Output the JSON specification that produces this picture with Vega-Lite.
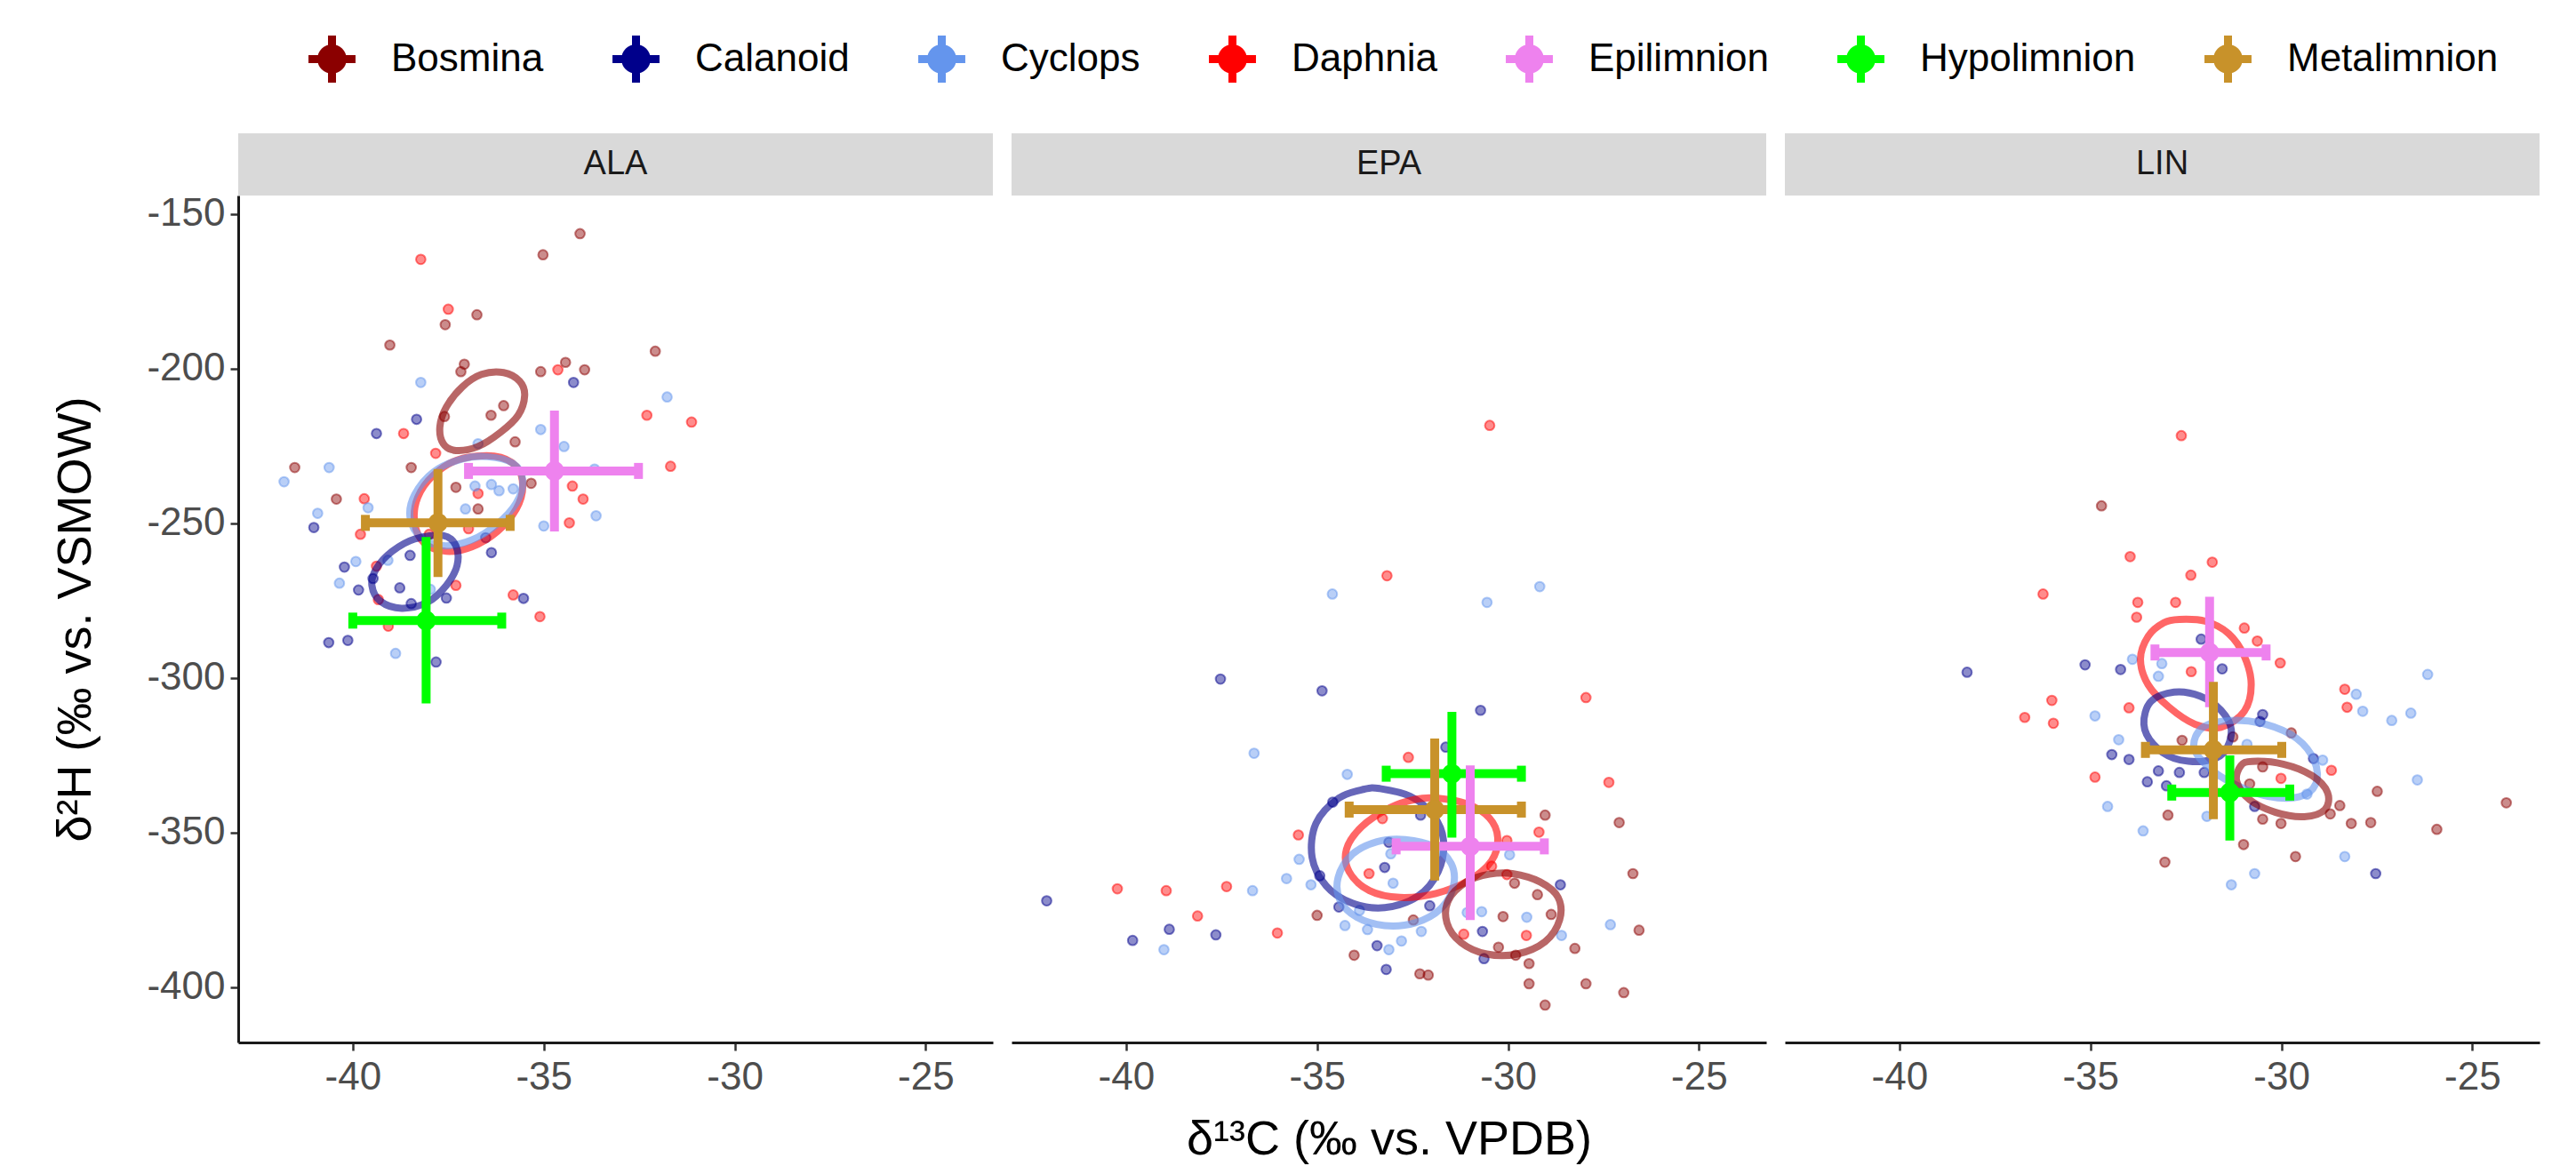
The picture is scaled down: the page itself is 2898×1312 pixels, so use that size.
{
 "$schema": "https://vega.github.io/schema/vega-lite/v6.json",
 "background": "white",
 "padding": {"left": 58, "top": 40, "right": 20, "bottom": 5},
 "autosize": {"type": "pad"},
 "data": {"values": [
  {"p":"ALA","t":"strip"},{"p":"EPA","t":"strip"},{"p":"LIN","t":"strip"},
  {"p":"ALA","t":"pt","s":"Bosmina","x":-34.05,"y":-156.4},
  {"p":"ALA","t":"pt","s":"Bosmina","x":-35.02,"y":-163.2},
  {"p":"ALA","t":"pt","s":"Daphnia","x":-38.22,"y":-164.7},
  {"p":"ALA","t":"pt","s":"Daphnia","x":-37.5,"y":-180.8},
  {"p":"ALA","t":"pt","s":"Bosmina","x":-37.58,"y":-185.8},
  {"p":"ALA","t":"pt","s":"Bosmina","x":-36.75,"y":-182.6},
  {"p":"ALA","t":"pt","s":"Bosmina","x":-39.03,"y":-192.4},
  {"p":"ALA","t":"pt","s":"Bosmina","x":-32.08,"y":-194.4},
  {"p":"ALA","t":"pt","s":"Bosmina","x":-37.08,"y":-198.6},
  {"p":"ALA","t":"pt","s":"Bosmina","x":-37.17,"y":-201.0},
  {"p":"ALA","t":"pt","s":"Bosmina","x":-35.08,"y":-201.0},
  {"p":"ALA","t":"pt","s":"Daphnia","x":-34.63,"y":-200.4},
  {"p":"ALA","t":"pt","s":"Bosmina","x":-34.43,"y":-198.0},
  {"p":"ALA","t":"pt","s":"Bosmina","x":-33.93,"y":-200.4},
  {"p":"ALA","t":"pt","s":"Calanoid","x":-34.22,"y":-204.5},
  {"p":"ALA","t":"pt","s":"Cyclops","x":-38.22,"y":-204.5},
  {"p":"ALA","t":"pt","s":"Cyclops","x":-31.77,"y":-209.2},
  {"p":"ALA","t":"pt","s":"Daphnia","x":-32.3,"y":-215.1},
  {"p":"ALA","t":"pt","s":"Daphnia","x":-31.13,"y":-217.3},
  {"p":"ALA","t":"pt","s":"Bosmina","x":-36.05,"y":-212.0},
  {"p":"ALA","t":"pt","s":"Bosmina","x":-36.38,"y":-215.1},
  {"p":"ALA","t":"pt","s":"Calanoid","x":-38.33,"y":-216.4},
  {"p":"ALA","t":"pt","s":"Calanoid","x":-39.38,"y":-221.0},
  {"p":"ALA","t":"pt","s":"Daphnia","x":-38.67,"y":-221.0},
  {"p":"ALA","t":"pt","s":"Bosmina","x":-37.6,"y":-215.5},
  {"p":"ALA","t":"pt","s":"Cyclops","x":-36.72,"y":-224.3},
  {"p":"ALA","t":"pt","s":"Bosmina","x":-35.75,"y":-223.7},
  {"p":"ALA","t":"pt","s":"Cyclops","x":-35.08,"y":-219.7},
  {"p":"ALA","t":"pt","s":"Cyclops","x":-34.47,"y":-225.2},
  {"p":"ALA","t":"pt","s":"Bosmina","x":-41.52,"y":-232.0},
  {"p":"ALA","t":"pt","s":"Cyclops","x":-41.8,"y":-236.6},
  {"p":"ALA","t":"pt","s":"Cyclops","x":-40.62,"y":-232.0},
  {"p":"ALA","t":"pt","s":"Bosmina","x":-38.47,"y":-232.0},
  {"p":"ALA","t":"pt","s":"Daphnia","x":-37.83,"y":-227.4},
  {"p":"ALA","t":"pt","s":"Bosmina","x":-37.3,"y":-238.4},
  {"p":"ALA","t":"pt","s":"Daphnia","x":-36.72,"y":-240.4},
  {"p":"ALA","t":"pt","s":"Cyclops","x":-36.8,"y":-238.0},
  {"p":"ALA","t":"pt","s":"Cyclops","x":-36.37,"y":-237.5},
  {"p":"ALA","t":"pt","s":"Cyclops","x":-36.17,"y":-239.5},
  {"p":"ALA","t":"pt","s":"Cyclops","x":-35.8,"y":-238.9},
  {"p":"ALA","t":"pt","s":"Bosmina","x":-35.33,"y":-237.1},
  {"p":"ALA","t":"pt","s":"Daphnia","x":-34.25,"y":-238.0},
  {"p":"ALA","t":"pt","s":"Daphnia","x":-33.97,"y":-242.2},
  {"p":"ALA","t":"pt","s":"Cyclops","x":-33.63,"y":-247.6},
  {"p":"ALA","t":"pt","s":"Cyclops","x":-33.67,"y":-232.5},
  {"p":"ALA","t":"pt","s":"Daphnia","x":-34.33,"y":-249.9},
  {"p":"ALA","t":"pt","s":"Cyclops","x":-35.0,"y":-250.9},
  {"p":"ALA","t":"pt","s":"Daphnia","x":-31.68,"y":-231.6},
  {"p":"ALA","t":"pt","s":"Bosmina","x":-40.43,"y":-242.2},
  {"p":"ALA","t":"pt","s":"Cyclops","x":-40.92,"y":-246.8},
  {"p":"ALA","t":"pt","s":"Daphnia","x":-39.7,"y":-242.1},
  {"p":"ALA","t":"pt","s":"Cyclops","x":-39.6,"y":-245.0},
  {"p":"ALA","t":"pt","s":"Calanoid","x":-41.02,"y":-251.4},
  {"p":"ALA","t":"pt","s":"Daphnia","x":-39.8,"y":-253.6},
  {"p":"ALA","t":"pt","s":"Bosmina","x":-36.72,"y":-245.4},
  {"p":"ALA","t":"pt","s":"Cyclops","x":-37.05,"y":-245.4},
  {"p":"ALA","t":"pt","s":"Calanoid","x":-36.52,"y":-254.7},
  {"p":"ALA","t":"pt","s":"Calanoid","x":-36.37,"y":-259.5},
  {"p":"ALA","t":"pt","s":"Daphnia","x":-36.97,"y":-251.8},
  {"p":"ALA","t":"pt","s":"Daphnia","x":-37.3,"y":-270.1},
  {"p":"ALA","t":"pt","s":"Cyclops","x":-39.92,"y":-262.4},
  {"p":"ALA","t":"pt","s":"Calanoid","x":-40.22,"y":-264.2},
  {"p":"ALA","t":"pt","s":"Daphnia","x":-39.38,"y":-263.9},
  {"p":"ALA","t":"pt","s":"Calanoid","x":-39.47,"y":-267.9},
  {"p":"ALA","t":"pt","s":"Cyclops","x":-40.35,"y":-269.4},
  {"p":"ALA","t":"pt","s":"Calanoid","x":-39.85,"y":-271.6},
  {"p":"ALA","t":"pt","s":"Calanoid","x":-38.77,"y":-270.9},
  {"p":"ALA","t":"pt","s":"Calanoid","x":-38.5,"y":-260.4},
  {"p":"ALA","t":"pt","s":"Cyclops","x":-39.08,"y":-262.0},
  {"p":"ALA","t":"pt","s":"Daphnia","x":-39.33,"y":-274.7},
  {"p":"ALA","t":"pt","s":"Cyclops","x":-37.97,"y":-271.4},
  {"p":"ALA","t":"pt","s":"Calanoid","x":-37.55,"y":-274.2},
  {"p":"ALA","t":"pt","s":"Daphnia","x":-35.8,"y":-273.2},
  {"p":"ALA","t":"pt","s":"Calanoid","x":-35.53,"y":-274.3},
  {"p":"ALA","t":"pt","s":"Daphnia","x":-35.1,"y":-280.2},
  {"p":"ALA","t":"pt","s":"Daphnia","x":-39.07,"y":-283.3},
  {"p":"ALA","t":"pt","s":"Calanoid","x":-40.63,"y":-288.6},
  {"p":"ALA","t":"pt","s":"Calanoid","x":-40.13,"y":-287.9},
  {"p":"ALA","t":"pt","s":"Cyclops","x":-38.88,"y":-292.1},
  {"p":"ALA","t":"pt","s":"Calanoid","x":-37.82,"y":-294.9},
  {"p":"ALA","t":"pt","s":"Calanoid","x":-38.47,"y":-276.0},
  {"p":"ALA","t":"pt","s":"Daphnia","x":-38.0,"y":-253.6},
  {"p":"EPA","t":"pt","s":"Daphnia","x":-30.48,"y":-218.4},
  {"p":"EPA","t":"pt","s":"Daphnia","x":-33.17,"y":-267.0},
  {"p":"EPA","t":"pt","s":"Cyclops","x":-34.6,"y":-272.9},
  {"p":"EPA","t":"pt","s":"Cyclops","x":-30.55,"y":-275.6},
  {"p":"EPA","t":"pt","s":"Cyclops","x":-29.17,"y":-270.5},
  {"p":"EPA","t":"pt","s":"Calanoid","x":-37.53,"y":-300.4},
  {"p":"EPA","t":"pt","s":"Calanoid","x":-34.87,"y":-304.2},
  {"p":"EPA","t":"pt","s":"Calanoid","x":-30.72,"y":-310.5},
  {"p":"EPA","t":"pt","s":"Daphnia","x":-27.96,"y":-306.4},
  {"p":"EPA","t":"pt","s":"Cyclops","x":-36.65,"y":-324.4},
  {"p":"EPA","t":"pt","s":"Daphnia","x":-32.61,"y":-325.7},
  {"p":"EPA","t":"pt","s":"Cyclops","x":-34.21,"y":-331.2},
  {"p":"EPA","t":"pt","s":"Daphnia","x":-27.36,"y":-333.8},
  {"p":"EPA","t":"pt","s":"Bosmina","x":-29.03,"y":-344.4},
  {"p":"EPA","t":"pt","s":"Bosmina","x":-27.09,"y":-346.8},
  {"p":"EPA","t":"pt","s":"Daphnia","x":-29.19,"y":-349.9},
  {"p":"EPA","t":"pt","s":"Daphnia","x":-35.49,"y":-350.8},
  {"p":"EPA","t":"pt","s":"Cyclops","x":-35.47,"y":-358.7},
  {"p":"EPA","t":"pt","s":"Bosmina","x":-26.73,"y":-363.3},
  {"p":"EPA","t":"pt","s":"Calanoid","x":-42.08,"y":-372.1},
  {"p":"EPA","t":"pt","s":"Daphnia","x":-40.23,"y":-368.2},
  {"p":"EPA","t":"pt","s":"Daphnia","x":-38.95,"y":-368.8},
  {"p":"EPA","t":"pt","s":"Daphnia","x":-37.37,"y":-367.5},
  {"p":"EPA","t":"pt","s":"Cyclops","x":-36.69,"y":-368.8},
  {"p":"EPA","t":"pt","s":"Cyclops","x":-35.8,"y":-364.9},
  {"p":"EPA","t":"pt","s":"Daphnia","x":-38.13,"y":-377.0},
  {"p":"EPA","t":"pt","s":"Calanoid","x":-39.83,"y":-384.9},
  {"p":"EPA","t":"pt","s":"Calanoid","x":-38.87,"y":-381.3},
  {"p":"EPA","t":"pt","s":"Cyclops","x":-39.01,"y":-387.9},
  {"p":"EPA","t":"pt","s":"Calanoid","x":-37.65,"y":-383.1},
  {"p":"EPA","t":"pt","s":"Daphnia","x":-36.04,"y":-382.5},
  {"p":"EPA","t":"pt","s":"Cyclops","x":-35.16,"y":-366.9},
  {"p":"EPA","t":"pt","s":"Bosmina","x":-35.0,"y":-376.8},
  {"p":"EPA","t":"pt","s":"Calanoid","x":-34.43,"y":-374.1},
  {"p":"EPA","t":"pt","s":"Cyclops","x":-34.27,"y":-380.1},
  {"p":"EPA","t":"pt","s":"Bosmina","x":-34.03,"y":-389.7},
  {"p":"EPA","t":"pt","s":"Cyclops","x":-33.68,"y":-381.4},
  {"p":"EPA","t":"pt","s":"Calanoid","x":-33.43,"y":-386.6},
  {"p":"EPA","t":"pt","s":"Calanoid","x":-33.19,"y":-394.3},
  {"p":"EPA","t":"pt","s":"Cyclops","x":-33.12,"y":-387.9},
  {"p":"EPA","t":"pt","s":"Cyclops","x":-32.79,"y":-385.1},
  {"p":"EPA","t":"pt","s":"Bosmina","x":-32.31,"y":-395.7},
  {"p":"EPA","t":"pt","s":"Bosmina","x":-32.09,"y":-396.1},
  {"p":"EPA","t":"pt","s":"Cyclops","x":-32.27,"y":-382.0},
  {"p":"EPA","t":"pt","s":"Bosmina","x":-32.48,"y":-378.3},
  {"p":"EPA","t":"pt","s":"Calanoid","x":-32.05,"y":-373.7},
  {"p":"EPA","t":"pt","s":"Calanoid","x":-33.23,"y":-361.3},
  {"p":"EPA","t":"pt","s":"Daphnia","x":-33.64,"y":-363.3},
  {"p":"EPA","t":"pt","s":"Cyclops","x":-33.01,"y":-366.4},
  {"p":"EPA","t":"pt","s":"Calanoid","x":-33.12,"y":-353.2},
  {"p":"EPA","t":"pt","s":"Cyclops","x":-33.07,"y":-356.9},
  {"p":"EPA","t":"pt","s":"Calanoid","x":-34.93,"y":-364.0},
  {"p":"EPA","t":"pt","s":"Daphnia","x":-33.29,"y":-345.5},
  {"p":"EPA","t":"pt","s":"Calanoid","x":-34.59,"y":-340.2},
  {"p":"EPA","t":"pt","s":"Calanoid","x":-32.29,"y":-344.4},
  {"p":"EPA","t":"pt","s":"Calanoid","x":-31.63,"y":-322.4},
  {"p":"EPA","t":"pt","s":"Cyclops","x":-31.07,"y":-375.9},
  {"p":"EPA","t":"pt","s":"Calanoid","x":-30.67,"y":-382.0},
  {"p":"EPA","t":"pt","s":"Cyclops","x":-30.69,"y":-375.6},
  {"p":"EPA","t":"pt","s":"Calanoid","x":-30.63,"y":-390.8},
  {"p":"EPA","t":"pt","s":"Daphnia","x":-30.43,"y":-360.9},
  {"p":"EPA","t":"pt","s":"Cyclops","x":-29.96,"y":-357.2},
  {"p":"EPA","t":"pt","s":"Bosmina","x":-30.13,"y":-377.2},
  {"p":"EPA","t":"pt","s":"Bosmina","x":-30.25,"y":-387.1},
  {"p":"EPA","t":"pt","s":"Bosmina","x":-29.8,"y":-389.7},
  {"p":"EPA","t":"pt","s":"Bosmina","x":-29.45,"y":-392.4},
  {"p":"EPA","t":"pt","s":"Daphnia","x":-29.52,"y":-383.3},
  {"p":"EPA","t":"pt","s":"Cyclops","x":-29.51,"y":-377.4},
  {"p":"EPA","t":"pt","s":"Bosmina","x":-29.45,"y":-398.9},
  {"p":"EPA","t":"pt","s":"Bosmina","x":-29.03,"y":-405.8},
  {"p":"EPA","t":"pt","s":"Calanoid","x":-28.63,"y":-366.9},
  {"p":"EPA","t":"pt","s":"Cyclops","x":-28.6,"y":-383.3},
  {"p":"EPA","t":"pt","s":"Bosmina","x":-28.25,"y":-387.5},
  {"p":"EPA","t":"pt","s":"Bosmina","x":-27.96,"y":-398.9},
  {"p":"EPA","t":"pt","s":"Cyclops","x":-27.32,"y":-379.8},
  {"p":"EPA","t":"pt","s":"Bosmina","x":-26.97,"y":-401.8},
  {"p":"EPA","t":"pt","s":"Bosmina","x":-26.57,"y":-381.6},
  {"p":"EPA","t":"pt","s":"Daphnia","x":-30.03,"y":-352.6},
  {"p":"EPA","t":"pt","s":"Daphnia","x":-31.16,"y":-382.9},
  {"p":"EPA","t":"pt","s":"Bosmina","x":-29.83,"y":-366.4},
  {"p":"EPA","t":"pt","s":"Bosmina","x":-29.23,"y":-370.1},
  {"p":"EPA","t":"pt","s":"Bosmina","x":-28.87,"y":-376.5},
  {"p":"EPA","t":"pt","s":"Cyclops","x":-33.89,"y":-375.2},
  {"p":"EPA","t":"pt","s":"Daphnia","x":-30.03,"y":-363.6},
  {"p":"LIN","t":"pt","s":"Daphnia","x":-32.62,"y":-221.7},
  {"p":"LIN","t":"pt","s":"Bosmina","x":-34.71,"y":-244.4},
  {"p":"LIN","t":"pt","s":"Daphnia","x":-33.96,"y":-260.8},
  {"p":"LIN","t":"pt","s":"Daphnia","x":-31.81,"y":-262.6},
  {"p":"LIN","t":"pt","s":"Daphnia","x":-32.37,"y":-266.8},
  {"p":"LIN","t":"pt","s":"Daphnia","x":-36.24,"y":-272.9},
  {"p":"LIN","t":"pt","s":"Daphnia","x":-33.76,"y":-275.6},
  {"p":"LIN","t":"pt","s":"Daphnia","x":-32.77,"y":-275.6},
  {"p":"LIN","t":"pt","s":"Daphnia","x":-33.79,"y":-280.4},
  {"p":"LIN","t":"pt","s":"Daphnia","x":-30.97,"y":-283.9},
  {"p":"LIN","t":"pt","s":"Daphnia","x":-30.63,"y":-288.1},
  {"p":"LIN","t":"pt","s":"Daphnia","x":-30.03,"y":-295.2},
  {"p":"LIN","t":"pt","s":"Calanoid","x":-38.23,"y":-298.2},
  {"p":"LIN","t":"pt","s":"Calanoid","x":-35.14,"y":-295.8},
  {"p":"LIN","t":"pt","s":"Calanoid","x":-34.21,"y":-297.3},
  {"p":"LIN","t":"pt","s":"Cyclops","x":-33.9,"y":-294.0},
  {"p":"LIN","t":"pt","s":"Cyclops","x":-33.13,"y":-295.4},
  {"p":"LIN","t":"pt","s":"Calanoid","x":-32.1,"y":-287.5},
  {"p":"LIN","t":"pt","s":"Calanoid","x":-31.55,"y":-297.1},
  {"p":"LIN","t":"pt","s":"Daphnia","x":-32.36,"y":-298.0},
  {"p":"LIN","t":"pt","s":"Cyclops","x":-26.17,"y":-298.9},
  {"p":"LIN","t":"pt","s":"Daphnia","x":-36.01,"y":-307.3},
  {"p":"LIN","t":"pt","s":"Daphnia","x":-36.72,"y":-312.8},
  {"p":"LIN","t":"pt","s":"Daphnia","x":-35.97,"y":-314.7},
  {"p":"LIN","t":"pt","s":"Cyclops","x":-34.88,"y":-312.3},
  {"p":"LIN","t":"pt","s":"Daphnia","x":-33.99,"y":-309.7},
  {"p":"LIN","t":"pt","s":"Daphnia","x":-28.34,"y":-303.7},
  {"p":"LIN","t":"pt","s":"Cyclops","x":-28.04,"y":-305.3},
  {"p":"LIN","t":"pt","s":"Daphnia","x":-28.28,"y":-309.5},
  {"p":"LIN","t":"pt","s":"Cyclops","x":-27.87,"y":-310.8},
  {"p":"LIN","t":"pt","s":"Cyclops","x":-27.11,"y":-313.8},
  {"p":"LIN","t":"pt","s":"Cyclops","x":-26.61,"y":-311.4},
  {"p":"LIN","t":"pt","s":"Calanoid","x":-30.49,"y":-311.9},
  {"p":"LIN","t":"pt","s":"Calanoid","x":-30.56,"y":-314.1},
  {"p":"LIN","t":"pt","s":"Cyclops","x":-34.26,"y":-320.0},
  {"p":"LIN","t":"pt","s":"Calanoid","x":-34.44,"y":-324.8},
  {"p":"LIN","t":"pt","s":"Calanoid","x":-33.99,"y":-326.4},
  {"p":"LIN","t":"pt","s":"Bosmina","x":-32.6,"y":-320.2},
  {"p":"LIN","t":"pt","s":"Calanoid","x":-33.22,"y":-330.1},
  {"p":"LIN","t":"pt","s":"Calanoid","x":-32.67,"y":-330.6},
  {"p":"LIN","t":"pt","s":"Calanoid","x":-33.51,"y":-333.6},
  {"p":"LIN","t":"pt","s":"Calanoid","x":-33.01,"y":-334.9},
  {"p":"LIN","t":"pt","s":"Daphnia","x":-34.88,"y":-332.1},
  {"p":"LIN","t":"pt","s":"Calanoid","x":-32.02,"y":-330.6},
  {"p":"LIN","t":"pt","s":"Bosmina","x":-31.27,"y":-319.1},
  {"p":"LIN","t":"pt","s":"Cyclops","x":-30.9,"y":-321.5},
  {"p":"LIN","t":"pt","s":"Bosmina","x":-29.74,"y":-317.8},
  {"p":"LIN","t":"pt","s":"Calanoid","x":-29.16,"y":-326.1},
  {"p":"LIN","t":"pt","s":"Cyclops","x":-28.92,"y":-326.6},
  {"p":"LIN","t":"pt","s":"Daphnia","x":-28.69,"y":-329.9},
  {"p":"LIN","t":"pt","s":"Daphnia","x":-30.01,"y":-332.5},
  {"p":"LIN","t":"pt","s":"Bosmina","x":-30.49,"y":-328.8},
  {"p":"LIN","t":"pt","s":"Bosmina","x":-30.83,"y":-334.3},
  {"p":"LIN","t":"pt","s":"Cyclops","x":-29.33,"y":-337.6},
  {"p":"LIN","t":"pt","s":"Bosmina","x":-28.47,"y":-341.3},
  {"p":"LIN","t":"pt","s":"Bosmina","x":-28.72,"y":-344.0},
  {"p":"LIN","t":"pt","s":"Bosmina","x":-28.17,"y":-347.1},
  {"p":"LIN","t":"pt","s":"Bosmina","x":-27.66,"y":-346.8},
  {"p":"LIN","t":"pt","s":"Bosmina","x":-27.49,"y":-336.7},
  {"p":"LIN","t":"pt","s":"Cyclops","x":-26.44,"y":-333.0},
  {"p":"LIN","t":"pt","s":"Bosmina","x":-24.11,"y":-340.4},
  {"p":"LIN","t":"pt","s":"Bosmina","x":-25.93,"y":-349.0},
  {"p":"LIN","t":"pt","s":"Cyclops","x":-34.55,"y":-341.6},
  {"p":"LIN","t":"pt","s":"Cyclops","x":-33.62,"y":-349.5},
  {"p":"LIN","t":"pt","s":"Bosmina","x":-32.97,"y":-344.4},
  {"p":"LIN","t":"pt","s":"Cyclops","x":-31.95,"y":-344.8},
  {"p":"LIN","t":"pt","s":"Calanoid","x":-30.7,"y":-341.6},
  {"p":"LIN","t":"pt","s":"Bosmina","x":-30.49,"y":-345.7},
  {"p":"LIN","t":"pt","s":"Bosmina","x":-30.01,"y":-347.1},
  {"p":"LIN","t":"pt","s":"Bosmina","x":-30.99,"y":-353.9},
  {"p":"LIN","t":"pt","s":"Bosmina","x":-29.63,"y":-357.8},
  {"p":"LIN","t":"pt","s":"Cyclops","x":-28.34,"y":-357.8},
  {"p":"LIN","t":"pt","s":"Calanoid","x":-27.53,"y":-363.3},
  {"p":"LIN","t":"pt","s":"Cyclops","x":-30.7,"y":-363.3},
  {"p":"LIN","t":"pt","s":"Cyclops","x":-31.31,"y":-366.9},
  {"p":"LIN","t":"pt","s":"Bosmina","x":-33.05,"y":-359.6},
  {"p":"LIN","t":"pt","s":"Cyclops","x":-33.22,"y":-299.5},
  {"p":"ALA","t":"ell","s":"Bosmina","o":1,"x":-36.05,"y":-201.3},
  {"p":"ALA","t":"ell","s":"Bosmina","o":2,"x":-35.63,"y":-204.1},
  {"p":"ALA","t":"ell","s":"Bosmina","o":3,"x":-35.5,"y":-208.7},
  {"p":"ALA","t":"ell","s":"Bosmina","o":4,"x":-35.67,"y":-215.1},
  {"p":"ALA","t":"ell","s":"Bosmina","o":5,"x":-36.13,"y":-220.6},
  {"p":"ALA","t":"ell","s":"Bosmina","o":6,"x":-36.72,"y":-225.2},
  {"p":"ALA","t":"ell","s":"Bosmina","o":7,"x":-37.3,"y":-226.5},
  {"p":"ALA","t":"ell","s":"Bosmina","o":8,"x":-37.63,"y":-224.3},
  {"p":"ALA","t":"ell","s":"Bosmina","o":9,"x":-37.72,"y":-218.8},
  {"p":"ALA","t":"ell","s":"Bosmina","o":10,"x":-37.55,"y":-212.4},
  {"p":"ALA","t":"ell","s":"Bosmina","o":11,"x":-37.13,"y":-205.9},
  {"p":"ALA","t":"ell","s":"Bosmina","o":12,"x":-36.63,"y":-201.9},
  {"p":"ALA","t":"ell","s":"Daphnia","o":1,"x":-36.3,"y":-228.3},
  {"p":"ALA","t":"ell","s":"Daphnia","o":2,"x":-35.72,"y":-231.6},
  {"p":"ALA","t":"ell","s":"Daphnia","o":3,"x":-35.55,"y":-238.0},
  {"p":"ALA","t":"ell","s":"Daphnia","o":4,"x":-35.72,"y":-245.4},
  {"p":"ALA","t":"ell","s":"Daphnia","o":5,"x":-36.22,"y":-252.7},
  {"p":"ALA","t":"ell","s":"Daphnia","o":6,"x":-36.88,"y":-257.6},
  {"p":"ALA","t":"ell","s":"Daphnia","o":7,"x":-37.55,"y":-259.1},
  {"p":"ALA","t":"ell","s":"Daphnia","o":8,"x":-38.13,"y":-256.4},
  {"p":"ALA","t":"ell","s":"Daphnia","o":9,"x":-38.38,"y":-249.9},
  {"p":"ALA","t":"ell","s":"Daphnia","o":10,"x":-38.3,"y":-241.7},
  {"p":"ALA","t":"ell","s":"Daphnia","o":11,"x":-37.88,"y":-234.4},
  {"p":"ALA","t":"ell","s":"Daphnia","o":12,"x":-37.22,"y":-229.4},
  {"p":"ALA","t":"ell","s":"Cyclops","o":1,"x":-36.47,"y":-228.5},
  {"p":"ALA","t":"ell","s":"Cyclops","o":2,"x":-35.8,"y":-230.7},
  {"p":"ALA","t":"ell","s":"Cyclops","o":3,"x":-35.55,"y":-236.2},
  {"p":"ALA","t":"ell","s":"Cyclops","o":4,"x":-35.72,"y":-243.5},
  {"p":"ALA","t":"ell","s":"Cyclops","o":5,"x":-36.22,"y":-250.3},
  {"p":"ALA","t":"ell","s":"Cyclops","o":6,"x":-36.88,"y":-255.4},
  {"p":"ALA","t":"ell","s":"Cyclops","o":7,"x":-37.63,"y":-257.3},
  {"p":"ALA","t":"ell","s":"Cyclops","o":8,"x":-38.22,"y":-254.5},
  {"p":"ALA","t":"ell","s":"Cyclops","o":9,"x":-38.5,"y":-248.1},
  {"p":"ALA","t":"ell","s":"Cyclops","o":10,"x":-38.38,"y":-240.8},
  {"p":"ALA","t":"ell","s":"Cyclops","o":11,"x":-37.88,"y":-233.4},
  {"p":"ALA","t":"ell","s":"Cyclops","o":12,"x":-37.13,"y":-229.2},
  {"p":"ALA","t":"ell","s":"Calanoid","o":1,"x":-37.63,"y":-254.0},
  {"p":"ALA","t":"ell","s":"Calanoid","o":2,"x":-37.3,"y":-257.3},
  {"p":"ALA","t":"ell","s":"Calanoid","o":3,"x":-37.27,"y":-263.7},
  {"p":"ALA","t":"ell","s":"Calanoid","o":4,"x":-37.55,"y":-270.1},
  {"p":"ALA","t":"ell","s":"Calanoid","o":5,"x":-38.05,"y":-275.6},
  {"p":"ALA","t":"ell","s":"Calanoid","o":6,"x":-38.72,"y":-277.5},
  {"p":"ALA","t":"ell","s":"Calanoid","o":7,"x":-39.27,"y":-275.3},
  {"p":"ALA","t":"ell","s":"Calanoid","o":8,"x":-39.5,"y":-270.1},
  {"p":"ALA","t":"ell","s":"Calanoid","o":9,"x":-39.38,"y":-264.6},
  {"p":"ALA","t":"ell","s":"Calanoid","o":10,"x":-38.97,"y":-259.1},
  {"p":"ALA","t":"ell","s":"Calanoid","o":11,"x":-38.38,"y":-255.1},
  {"p":"EPA","t":"ell","s":"Calanoid","o":1,"x":-33.36,"y":-335.8},
  {"p":"EPA","t":"ell","s":"Calanoid","o":2,"x":-32.56,"y":-338.3},
  {"p":"EPA","t":"ell","s":"Calanoid","o":3,"x":-31.96,"y":-344.4},
  {"p":"EPA","t":"ell","s":"Calanoid","o":4,"x":-31.69,"y":-352.6},
  {"p":"EPA","t":"ell","s":"Calanoid","o":5,"x":-31.83,"y":-362.7},
  {"p":"EPA","t":"ell","s":"Calanoid","o":6,"x":-32.36,"y":-370.6},
  {"p":"EPA","t":"ell","s":"Calanoid","o":7,"x":-33.23,"y":-374.3},
  {"p":"EPA","t":"ell","s":"Calanoid","o":8,"x":-34.09,"y":-372.8},
  {"p":"EPA","t":"ell","s":"Calanoid","o":9,"x":-34.76,"y":-367.3},
  {"p":"EPA","t":"ell","s":"Calanoid","o":10,"x":-35.13,"y":-358.1},
  {"p":"EPA","t":"ell","s":"Calanoid","o":11,"x":-35.03,"y":-347.1},
  {"p":"EPA","t":"ell","s":"Calanoid","o":12,"x":-34.43,"y":-338.9},
  {"p":"EPA","t":"ell","s":"Calanoid","o":13,"x":-33.76,"y":-336.0},
  {"p":"EPA","t":"ell","s":"Daphnia","o":1,"x":-31.89,"y":-338.9},
  {"p":"EPA","t":"ell","s":"Daphnia","o":2,"x":-31.09,"y":-340.7},
  {"p":"EPA","t":"ell","s":"Daphnia","o":3,"x":-30.49,"y":-345.3},
  {"p":"EPA","t":"ell","s":"Daphnia","o":4,"x":-30.27,"y":-351.7},
  {"p":"EPA","t":"ell","s":"Daphnia","o":5,"x":-30.43,"y":-359.1},
  {"p":"EPA","t":"ell","s":"Daphnia","o":6,"x":-31.03,"y":-365.5},
  {"p":"EPA","t":"ell","s":"Daphnia","o":7,"x":-31.89,"y":-369.7},
  {"p":"EPA","t":"ell","s":"Daphnia","o":8,"x":-32.83,"y":-371.0},
  {"p":"EPA","t":"ell","s":"Daphnia","o":9,"x":-33.63,"y":-368.8},
  {"p":"EPA","t":"ell","s":"Daphnia","o":10,"x":-34.16,"y":-362.7},
  {"p":"EPA","t":"ell","s":"Daphnia","o":11,"x":-34.23,"y":-355.4},
  {"p":"EPA","t":"ell","s":"Daphnia","o":12,"x":-33.83,"y":-348.1},
  {"p":"EPA","t":"ell","s":"Daphnia","o":13,"x":-33.09,"y":-342.0},
  {"p":"EPA","t":"ell","s":"Daphnia","o":14,"x":-32.43,"y":-339.3},
  {"p":"EPA","t":"ell","s":"Cyclops","o":1,"x":-32.69,"y":-352.3},
  {"p":"EPA","t":"ell","s":"Cyclops","o":2,"x":-31.96,"y":-354.5},
  {"p":"EPA","t":"ell","s":"Cyclops","o":3,"x":-31.49,"y":-360.0},
  {"p":"EPA","t":"ell","s":"Cyclops","o":4,"x":-31.43,"y":-367.3},
  {"p":"EPA","t":"ell","s":"Cyclops","o":5,"x":-31.76,"y":-374.6},
  {"p":"EPA","t":"ell","s":"Cyclops","o":6,"x":-32.43,"y":-379.2},
  {"p":"EPA","t":"ell","s":"Cyclops","o":7,"x":-33.23,"y":-380.1},
  {"p":"EPA","t":"ell","s":"Cyclops","o":8,"x":-33.96,"y":-377.4},
  {"p":"EPA","t":"ell","s":"Cyclops","o":9,"x":-34.4,"y":-371.9},
  {"p":"EPA","t":"ell","s":"Cyclops","o":10,"x":-34.45,"y":-364.6},
  {"p":"EPA","t":"ell","s":"Cyclops","o":11,"x":-34.09,"y":-357.2},
  {"p":"EPA","t":"ell","s":"Cyclops","o":12,"x":-33.43,"y":-353.0},
  {"p":"EPA","t":"ell","s":"Bosmina","o":1,"x":-29.89,"y":-363.3},
  {"p":"EPA","t":"ell","s":"Bosmina","o":2,"x":-29.16,"y":-366.0},
  {"p":"EPA","t":"ell","s":"Bosmina","o":3,"x":-28.69,"y":-371.0},
  {"p":"EPA","t":"ell","s":"Bosmina","o":4,"x":-28.65,"y":-378.3},
  {"p":"EPA","t":"ell","s":"Bosmina","o":5,"x":-29.03,"y":-385.3},
  {"p":"EPA","t":"ell","s":"Bosmina","o":6,"x":-29.76,"y":-389.3},
  {"p":"EPA","t":"ell","s":"Bosmina","o":7,"x":-30.56,"y":-389.3},
  {"p":"EPA","t":"ell","s":"Bosmina","o":8,"x":-31.23,"y":-385.6},
  {"p":"EPA","t":"ell","s":"Bosmina","o":9,"x":-31.6,"y":-379.2},
  {"p":"EPA","t":"ell","s":"Bosmina","o":10,"x":-31.56,"y":-371.9},
  {"p":"EPA","t":"ell","s":"Bosmina","o":11,"x":-31.09,"y":-366.0},
  {"p":"EPA","t":"ell","s":"Bosmina","o":12,"x":-30.49,"y":-363.5},
  {"p":"LIN","t":"ell","s":"Daphnia","o":1,"x":-32.67,"y":-281.1},
  {"p":"LIN","t":"ell","s":"Daphnia","o":2,"x":-31.99,"y":-281.7},
  {"p":"LIN","t":"ell","s":"Daphnia","o":3,"x":-31.38,"y":-285.7},
  {"p":"LIN","t":"ell","s":"Daphnia","o":4,"x":-30.97,"y":-293.0},
  {"p":"LIN","t":"ell","s":"Daphnia","o":5,"x":-30.79,"y":-302.2},
  {"p":"LIN","t":"ell","s":"Daphnia","o":6,"x":-30.97,"y":-310.8},
  {"p":"LIN","t":"ell","s":"Daphnia","o":7,"x":-31.58,"y":-316.0},
  {"p":"LIN","t":"ell","s":"Daphnia","o":8,"x":-32.26,"y":-315.0},
  {"p":"LIN","t":"ell","s":"Daphnia","o":9,"x":-32.94,"y":-309.5},
  {"p":"LIN","t":"ell","s":"Daphnia","o":10,"x":-33.49,"y":-302.2},
  {"p":"LIN","t":"ell","s":"Daphnia","o":11,"x":-33.69,"y":-294.0},
  {"p":"LIN","t":"ell","s":"Daphnia","o":12,"x":-33.49,"y":-286.6},
  {"p":"LIN","t":"ell","s":"Daphnia","o":13,"x":-33.08,"y":-282.2},
  {"p":"LIN","t":"ell","s":"Calanoid","o":1,"x":-32.81,"y":-304.6},
  {"p":"LIN","t":"ell","s":"Calanoid","o":2,"x":-32.13,"y":-305.9},
  {"p":"LIN","t":"ell","s":"Calanoid","o":3,"x":-31.58,"y":-310.5},
  {"p":"LIN","t":"ell","s":"Calanoid","o":4,"x":-31.31,"y":-316.9},
  {"p":"LIN","t":"ell","s":"Calanoid","o":5,"x":-31.51,"y":-324.2},
  {"p":"LIN","t":"ell","s":"Calanoid","o":6,"x":-32.06,"y":-327.0},
  {"p":"LIN","t":"ell","s":"Calanoid","o":7,"x":-32.81,"y":-326.0},
  {"p":"LIN","t":"ell","s":"Calanoid","o":8,"x":-33.35,"y":-321.5},
  {"p":"LIN","t":"ell","s":"Calanoid","o":9,"x":-33.6,"y":-315.0},
  {"p":"LIN","t":"ell","s":"Calanoid","o":10,"x":-33.42,"y":-307.7},
  {"p":"LIN","t":"ell","s":"Cyclops","o":1,"x":-31.31,"y":-313.8},
  {"p":"LIN","t":"ell","s":"Cyclops","o":2,"x":-30.42,"y":-315.0},
  {"p":"LIN","t":"ell","s":"Cyclops","o":3,"x":-29.6,"y":-319.6},
  {"p":"LIN","t":"ell","s":"Cyclops","o":4,"x":-29.13,"y":-327.0},
  {"p":"LIN","t":"ell","s":"Cyclops","o":5,"x":-29.1,"y":-334.3},
  {"p":"LIN","t":"ell","s":"Cyclops","o":6,"x":-29.54,"y":-338.5},
  {"p":"LIN","t":"ell","s":"Cyclops","o":7,"x":-30.35,"y":-338.3},
  {"p":"LIN","t":"ell","s":"Cyclops","o":8,"x":-31.24,"y":-334.3},
  {"p":"LIN","t":"ell","s":"Cyclops","o":9,"x":-31.92,"y":-328.8},
  {"p":"LIN","t":"ell","s":"Cyclops","o":10,"x":-32.29,"y":-322.4},
  {"p":"LIN","t":"ell","s":"Cyclops","o":11,"x":-32.06,"y":-316.0},
  {"p":"LIN","t":"ell","s":"Bosmina","o":1,"x":-30.76,"y":-327.0},
  {"p":"LIN","t":"ell","s":"Bosmina","o":2,"x":-29.95,"y":-327.9},
  {"p":"LIN","t":"ell","s":"Bosmina","o":3,"x":-29.2,"y":-331.6},
  {"p":"LIN","t":"ell","s":"Bosmina","o":4,"x":-28.79,"y":-337.1},
  {"p":"LIN","t":"ell","s":"Bosmina","o":5,"x":-28.86,"y":-342.6},
  {"p":"LIN","t":"ell","s":"Bosmina","o":6,"x":-29.4,"y":-344.9},
  {"p":"LIN","t":"ell","s":"Bosmina","o":7,"x":-30.15,"y":-343.5},
  {"p":"LIN","t":"ell","s":"Bosmina","o":8,"x":-30.83,"y":-339.4},
  {"p":"LIN","t":"ell","s":"Bosmina","o":9,"x":-31.17,"y":-333.4},
  {"p":"LIN","t":"ell","s":"Bosmina","o":10,"x":-31.06,"y":-328.4},
  {"p":"ALA","t":"eb","s":"Metalimnion","x":-37.77,"y":-249.9,"xmin":-39.67,"xmax":-35.88,"ymin":-267.4,"ymax":-232.5},
  {"p":"ALA","t":"eb","s":"Hypolimnion","x":-38.08,"y":-281.5,"xmin":-40.0,"xmax":-36.1,"ymin":-308.3,"ymax":-254.5},
  {"p":"ALA","t":"eb","s":"Epilimnion","x":-34.72,"y":-233.1,"xmin":-36.97,"xmax":-32.52,"ymin":-252.7,"ymax":-213.6},
  {"p":"EPA","t":"eb","s":"Hypolimnion","x":-31.47,"y":-331.0,"xmin":-33.19,"xmax":-29.65,"ymin":-351.7,"ymax":-311.0},
  {"p":"EPA","t":"eb","s":"Metalimnion","x":-31.92,"y":-342.6,"xmin":-34.16,"xmax":-29.65,"ymin":-365.5,"ymax":-319.6},
  {"p":"EPA","t":"eb","s":"Epilimnion","x":-30.99,"y":-354.5,"xmin":-32.93,"xmax":-29.05,"ymin":-378.3,"ymax":-328.3},
  {"p":"LIN","t":"eb","s":"Epilimnion","x":-31.88,"y":-291.8,"xmin":-33.31,"xmax":-30.4,"ymin":-309.5,"ymax":-273.8},
  {"p":"LIN","t":"eb","s":"Metalimnion","x":-31.78,"y":-323.3,"xmin":-33.56,"xmax":-29.99,"ymin":-345.7,"ymax":-301.3},
  {"p":"LIN","t":"eb","s":"Hypolimnion","x":-31.35,"y":-337.1,"xmin":-32.87,"xmax":-29.78,"ymin":-352.6,"ymax":-325.1}
 ]},
 "facet": {"column": {"field": "p", "type": "nominal", "title": "δ¹³C (‰ vs. VPDB)",
   "header": {"labels": false, "titleOrient": "bottom", "titleFontSize": 54, "titleFont": "Liberation Sans", "titleColor": "black", "titleFontWeight": "normal", "titlePadding": 12}}},
 "spacing": {"column": 21},
 "spec": {
  "width": 849,
  "height": 953,
  "layer": [
   {"transform": [{"filter": "datum.t === 'strip'"}],
    "mark": {"type": "rect", "color": "#D9D9D9", "clip": false},
    "encoding": {
     "x": {"datum": -43.0, "type": "quantitative", "scale": {"domain": [-43.0, -23.24], "nice": false, "zero": false}},
     "x2": {"datum": -23.24},
     "y": {"datum": -144.05, "type": "quantitative", "scale": {"domain": [-417.9, -144.05], "nice": false, "zero": false}},
     "y2": {"datum": -123.95}}},
   {"transform": [{"filter": "datum.t === 'strip'"}],
    "mark": {"type": "text", "fontSize": 38, "color": "#1A1A1A", "font": "Liberation Sans", "baseline": "middle", "clip": false},
    "encoding": {
     "x": {"datum": -33.12, "type": "quantitative"},
     "y": {"datum": -134.0, "type": "quantitative"},
     "text": {"field": "p"}}},
   {"transform": [{"filter": "datum.t === 'pt'"}],
    "mark": {"type": "circle", "size": 115, "fillOpacity": 0.45, "strokeOpacity": 0.5, "strokeWidth": 2},
    "encoding": {
     "x": {"field": "x", "type": "quantitative", "scale": {"domain": [-43.0, -23.24], "nice": false, "zero": false},
       "axis": {"values": [-40, -35, -30, -25], "title": null, "labelExpr": "'' + datum.value"}},
     "y": {"field": "y", "type": "quantitative", "scale": {"domain": [-417.9, -144.05], "nice": false, "zero": false},
       "axis": {"values": [-400, -350, -300, -250, -200, -150], "title": "δ²H (‰ vs. VSMOW)", "titlePadding": 52, "labelExpr": "'' + datum.value"}},
     "stroke": {"field": "s", "type": "nominal", "legend": null,
       "scale": {"domain": ["Bosmina","Calanoid","Cyclops","Daphnia","Epilimnion","Hypolimnion","Metalimnion"],
                 "range": ["#8B0000","#00008B","#6495ED","#FF0000","#EE82EE","#00FF00","#C8922A"]}},
     "color": {"field": "s", "type": "nominal",
       "scale": {"domain": ["Bosmina","Calanoid","Cyclops","Daphnia","Epilimnion","Hypolimnion","Metalimnion"],
                 "range": ["#8B0000","#00008B","#6495ED","#FF0000","#EE82EE","#00FF00","#C8922A"]},
       "legend": {"title": null, "orient": "none", "direction": "horizontal", "legendX": 79, "legendY": -180,
         "symbolType": "M -0.62,0 A 0.62,0.62 0 1,1 0.62,0 A 0.62,0.62 0 1,1 -0.62,0 Z M -1,-0.17 L 1,-0.17 L 1,0.17 L -1,0.17 Z M -0.17,-1 L 0.17,-1 L 0.17,1 L -0.17,1 Z",
         "symbolSize": 2800, "symbolOpacity": 1, "symbolStrokeWidth": 0,
         "labelFontSize": 44, "labelFont": "Liberation Sans", "labelColor": "black", "labelOffset": 40, "columnPadding": 77, "labelLimit": 0,
         "encode": {"symbols": {"update": {"opacity": {"value": 1}, "fillOpacity": {"value": 1}, "strokeWidth": {"value": 0}}}}}}}},
   {"transform": [{"filter": "datum.t === 'ell'"}],
    "mark": {"type": "line", "interpolate": "cardinal-closed", "strokeWidth": 8, "opacity": 0.6},
    "encoding": {
     "x": {"field": "x", "type": "quantitative"},
     "y": {"field": "y", "type": "quantitative"},
     "color": {"field": "s", "type": "nominal"},
     "detail": {"field": "s"},
     "order": {"field": "o", "type": "quantitative"}}},
   {"transform": [{"filter": "datum.t === 'eb'"}],
    "mark": {"type": "rule", "strokeWidth": 10},
    "encoding": {
     "x": {"field": "xmin", "type": "quantitative"},
     "x2": {"field": "xmax"},
     "y": {"field": "y", "type": "quantitative"},
     "color": {"field": "s", "type": "nominal"}}},
   {"transform": [{"filter": "datum.t === 'eb'"}],
    "mark": {"type": "rule", "strokeWidth": 10},
    "encoding": {
     "x": {"field": "x", "type": "quantitative"},
     "y": {"field": "ymin", "type": "quantitative"},
     "y2": {"field": "ymax"},
     "color": {"field": "s", "type": "nominal"}}},
   {"transform": [{"filter": "datum.t === 'eb'"}],
    "mark": {"type": "tick", "orient": "vertical", "size": 18, "thickness": 10, "opacity": 1},
    "encoding": {
     "x": {"field": "xmin", "type": "quantitative"},
     "y": {"field": "y", "type": "quantitative"},
     "color": {"field": "s", "type": "nominal"}}},
   {"transform": [{"filter": "datum.t === 'eb'"}],
    "mark": {"type": "tick", "orient": "vertical", "size": 18, "thickness": 10, "opacity": 1},
    "encoding": {
     "x": {"field": "xmax", "type": "quantitative"},
     "y": {"field": "y", "type": "quantitative"},
     "color": {"field": "s", "type": "nominal"}}},
   {"transform": [{"filter": "datum.t === 'eb'"}],
    "mark": {"type": "circle", "size": 480, "opacity": 1},
    "encoding": {
     "x": {"field": "x", "type": "quantitative"},
     "y": {"field": "y", "type": "quantitative"},
     "color": {"field": "s", "type": "nominal"}}}
  ]
 },
 "config": {
  "font": "Liberation Sans",
  "view": {"stroke": null},
  "axis": {"grid": false, "domainColor": "#1A1A1A", "domainWidth": 3, "tickColor": "#333333", "tickWidth": 2.5, "tickSize": 9,
           "labelFontSize": 44, "labelColor": "#4D4D4D", "labelPadding": 6, "labelFont": "Liberation Sans",
           "titleFontSize": 54, "titleFontWeight": "normal", "titleColor": "black", "titleFont": "Liberation Sans"},
  "axisX": {"labelPadding": 8},
  "legend": {"padding": 0}
 }
}
